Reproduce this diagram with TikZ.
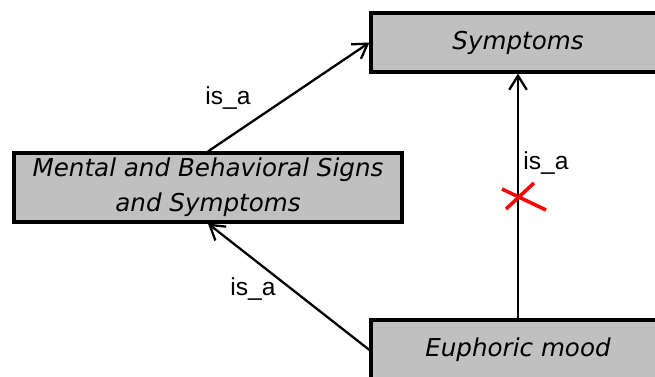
\documentclass[tikz,border=0pt]{standalone}
\usepackage{fontspec}
\setmainfont{DejaVu Sans}
\newfontfamily\labelfont{Liberation Sans}
\usetikzlibrary{arrows.meta}
\begin{document}
\begin{tikzpicture}[x=0.02cm,y=-0.02cm]
        \tikzset{concept/.style = {shape=rectangle,draw,line width=1.8pt,fill={rgb,255:red,192;green,192;blue,192},
                 align=center,font=\fontsize{14}{20}\selectfont\itshape,inner sep=0pt}}
        \tikzset{isa/.style = {line width=1.3pt,-{Straight Barb[length=8pt,width=10pt,line width=1.3pt]}}}
        \tikzset{rel/.style = {font=\labelfont\fontsize{14}{16}\selectfont,inner sep=0pt}}
        \useasboundingbox (0,0) rectangle (655,376);
        \clip (0,0) rectangle (655,376);
        % concepts
        \node[concept,minimum width=5.88cm,minimum height=1.18cm] (symptoms) at (518,42.5) {Symptoms};
        \node[concept,minimum width=7.76cm,minimum height=1.38cm] (mental) at (208,187.5) {Mental and Behavioral Signs\\and Symptoms};
        \node[concept,minimum width=5.88cm,minimum height=1.2cm] (euphoric) at (518,350) {Euphoric mood};
        % relations
        \draw[isa] (mental.north) -- (symptoms.west);
        \draw[isa] (euphoric.west) -- (mental.south);
        \draw[isa] (euphoric.north) -- (symptoms.south);
        % removed relation
        \coordinate (cut) at (518,197);
        \draw[red,line width=2pt] ([shift={(-16,-8)}]cut) -- ([shift={(28,13)}]cut);
        \draw[red,line width=2pt] ([shift={(16,-14)}]cut) -- ([shift={(-12,12)}]cut);
        % labels
        \node[rel] (l1) at (228,98) {is\_a};
        \node[rel] (l2) at (546,163) {is\_a};
        \node[rel] (l3) at (253,289) {is\_a};
\end{tikzpicture}
\end{document}
